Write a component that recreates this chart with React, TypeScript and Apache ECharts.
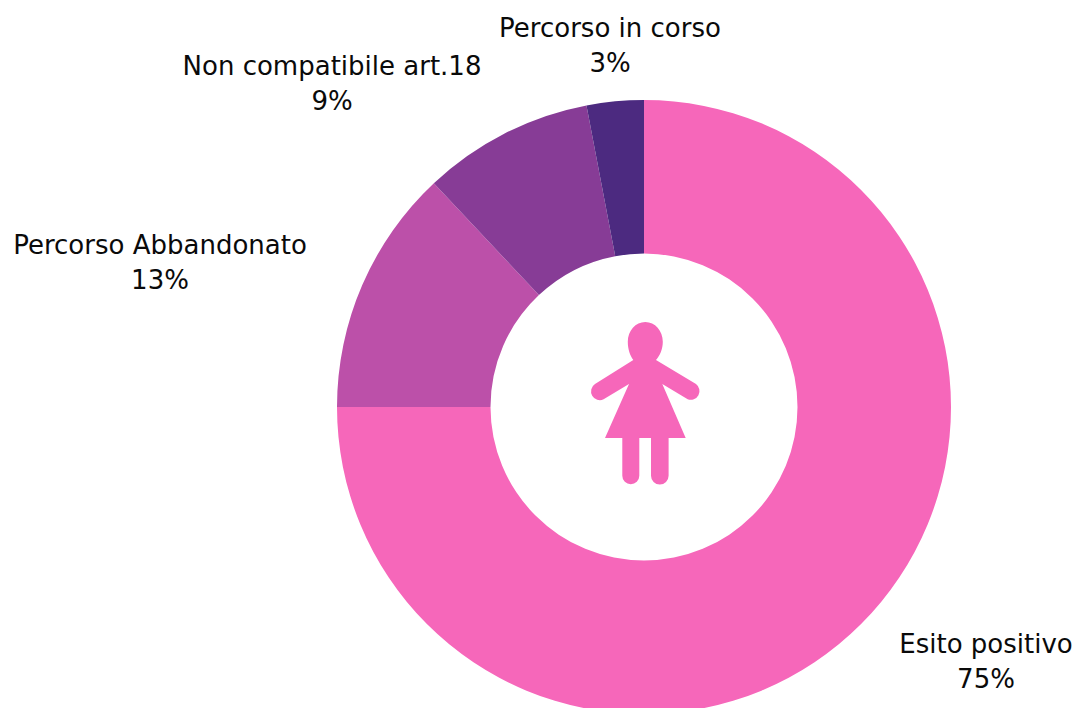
import React, { useEffect, useRef } from "react";
import * as echarts from "echarts";

const categories = ["Esito positivo", "Percorso Abbandonato", "Non compatibile art.18", "Percorso in corso"];
const percentages = [75, 13, 9, 3];
const sliceColors = ["#F667BA", "#BC50A9", "#873C96", "#4C2A80"];
// Label centres, in the order of the categories
const labelCentres = [
  [986, 661],
  [160, 262],
  [332, 83],
  [610, 45],
];

// Girl pictogram for the hole of the ring
const figurePath =
  "M645.3 322 C635.6 322 627.8 330.8 627.8 341.7 C627.8 349 630 355.5 633.3 360 " +
  "L595 384 A8.8 8.8 0 0 0 603.6 399.3 L629 384 L605 438 L622.3 438 L622.3 475.8 " +
  "A8.5 8.5 0 0 0 639.3 475.8 L639.3 438 L651 438 L651 475.8 A8.8 8.8 0 0 0 668.6 475.8 " +
  "L668.6 438 L685.7 438 L662.3 384 L687.7 399.3 A8.8 8.8 0 0 0 696 384 L656 360 " +
  "C660 355.5 662.8 349 662.8 341.7 C662.8 330.8 655 322 645.3 322 Z";

echarts.graphic.registerShape("girl", echarts.graphic.extendPath(figurePath as any, {}) as any);

export default function App() {
  const ref = useRef<HTMLDivElement>(null);
  useEffect(() => {
    const chart = echarts.init(ref.current!, null, { renderer: "svg" });
    chart.setOption({
      animation: false,
      backgroundColor: "#ffffff",
      series: [
        {
          type: "pie",
          center: [644, 407],
          radius: [153.5, 307],
          startAngle: 90,
          clockwise: true,
          silent: true,
          avoidLabelOverlap: false,
          labelLine: { show: false },
          label: {
            show: true,
            position: "outside",
            formatter: "{b}\n{c}%",
            fontFamily: "'DejaVu Sans'",
            fontSize: 26,
            lineHeight: 35,
            color: "#0a0a0a",
            align: "center",
            verticalAlign: "middle",
          },
          labelLayout: (p: any) => ({
            x: labelCentres[p.dataIndex][0],
            y: labelCentres[p.dataIndex][1],
            align: "center",
            verticalAlign: "middle",
          }),
          data: categories.map((name, i) => ({
            name,
            value: percentages[i],
            itemStyle: { color: sliceColors[i] },
          })),
        },
      ],
      graphic: [{ type: "girl", x: 0, y: 0, style: { fill: "#F667BA" }, silent: true }],
    });
    return () => chart.dispose();
  }, []);
  return <div ref={ref} style={{ position: "fixed", left: 0, top: 0, width: 1076, height: 708 }} />;
}
